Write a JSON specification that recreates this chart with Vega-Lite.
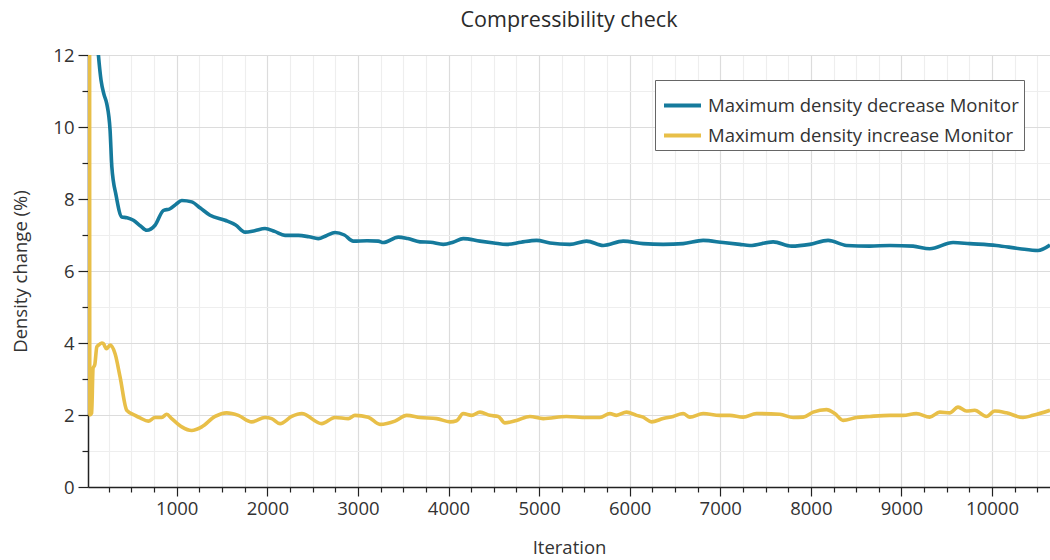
{
  "$schema": "https://vega.github.io/schema/vega-lite/v6.json",
  "width": 962,
  "height": 432,
  "autosize": {"type": "none"},
  "padding": {"top": 55, "left": 88, "right": 0, "bottom": 73},
  "background": "white",
  "title": {"text": "Compressibility check", "font": "Open Sans", "fontSize": 21.5, "fontWeight": "normal", "color": "#2a2a2a", "anchor": "middle", "offset": 15},
  "config": {
    "view": {"stroke": null},
    "axis": {"labelFont": "Open Sans", "titleFont": "Open Sans", "labelColor": "#333", "titleColor": "#333", "titleFontWeight": "normal", "domainColor": "#222", "domainWidth": 1.5, "tickColor": "#222", "tickWidth": 1.2}
  },
  "datasets": {
    "curves": [
      {"it": 30, "v": 22, "series": "Maximum density decrease Monitor"},
      {"it": 100, "v": 13.2, "series": "Maximum density decrease Monitor"},
      {"it": 135, "v": 12.0, "series": "Maximum density decrease Monitor"},
      {"it": 164, "v": 11.3, "series": "Maximum density decrease Monitor"},
      {"it": 197, "v": 10.9, "series": "Maximum density decrease Monitor"},
      {"it": 227, "v": 10.65, "series": "Maximum density decrease Monitor"},
      {"it": 264, "v": 9.9, "series": "Maximum density decrease Monitor"},
      {"it": 283, "v": 8.9, "series": "Maximum density decrease Monitor"},
      {"it": 330, "v": 8.1, "series": "Maximum density decrease Monitor"},
      {"it": 393, "v": 7.5, "series": "Maximum density decrease Monitor"},
      {"it": 450, "v": 7.48, "series": "Maximum density decrease Monitor"},
      {"it": 521, "v": 7.41, "series": "Maximum density decrease Monitor"},
      {"it": 600, "v": 7.25, "series": "Maximum density decrease Monitor"},
      {"it": 669, "v": 7.13, "series": "Maximum density decrease Monitor"},
      {"it": 760, "v": 7.27, "series": "Maximum density decrease Monitor"},
      {"it": 852, "v": 7.68, "series": "Maximum density decrease Monitor"},
      {"it": 926, "v": 7.73, "series": "Maximum density decrease Monitor"},
      {"it": 990, "v": 7.85, "series": "Maximum density decrease Monitor"},
      {"it": 1055, "v": 7.96, "series": "Maximum density decrease Monitor"},
      {"it": 1165, "v": 7.92, "series": "Maximum density decrease Monitor"},
      {"it": 1260, "v": 7.75, "series": "Maximum density decrease Monitor"},
      {"it": 1367, "v": 7.55, "series": "Maximum density decrease Monitor"},
      {"it": 1533, "v": 7.41, "series": "Maximum density decrease Monitor"},
      {"it": 1650, "v": 7.28, "series": "Maximum density decrease Monitor"},
      {"it": 1754, "v": 7.08, "series": "Maximum density decrease Monitor"},
      {"it": 1860, "v": 7.12, "series": "Maximum density decrease Monitor"},
      {"it": 1974, "v": 7.18, "series": "Maximum density decrease Monitor"},
      {"it": 2080, "v": 7.1, "series": "Maximum density decrease Monitor"},
      {"it": 2195, "v": 6.99, "series": "Maximum density decrease Monitor"},
      {"it": 2343, "v": 6.99, "series": "Maximum density decrease Monitor"},
      {"it": 2460, "v": 6.95, "series": "Maximum density decrease Monitor"},
      {"it": 2562, "v": 6.9, "series": "Maximum density decrease Monitor"},
      {"it": 2650, "v": 6.98, "series": "Maximum density decrease Monitor"},
      {"it": 2747, "v": 7.07, "series": "Maximum density decrease Monitor"},
      {"it": 2850, "v": 7.0, "series": "Maximum density decrease Monitor"},
      {"it": 2949, "v": 6.83, "series": "Maximum density decrease Monitor"},
      {"it": 3100, "v": 6.84, "series": "Maximum density decrease Monitor"},
      {"it": 3225, "v": 6.83, "series": "Maximum density decrease Monitor"},
      {"it": 3280, "v": 6.79, "series": "Maximum density decrease Monitor"},
      {"it": 3445, "v": 6.94, "series": "Maximum density decrease Monitor"},
      {"it": 3550, "v": 6.9, "series": "Maximum density decrease Monitor"},
      {"it": 3685, "v": 6.81, "series": "Maximum density decrease Monitor"},
      {"it": 3800, "v": 6.8, "series": "Maximum density decrease Monitor"},
      {"it": 3942, "v": 6.74, "series": "Maximum density decrease Monitor"},
      {"it": 4050, "v": 6.8, "series": "Maximum density decrease Monitor"},
      {"it": 4162, "v": 6.9, "series": "Maximum density decrease Monitor"},
      {"it": 4347, "v": 6.83, "series": "Maximum density decrease Monitor"},
      {"it": 4500, "v": 6.78, "series": "Maximum density decrease Monitor"},
      {"it": 4641, "v": 6.74, "series": "Maximum density decrease Monitor"},
      {"it": 4800, "v": 6.8, "series": "Maximum density decrease Monitor"},
      {"it": 4972, "v": 6.85, "series": "Maximum density decrease Monitor"},
      {"it": 5119, "v": 6.78, "series": "Maximum density decrease Monitor"},
      {"it": 5340, "v": 6.74, "series": "Maximum density decrease Monitor"},
      {"it": 5524, "v": 6.83, "series": "Maximum density decrease Monitor"},
      {"it": 5707, "v": 6.71, "series": "Maximum density decrease Monitor"},
      {"it": 5928, "v": 6.83, "series": "Maximum density decrease Monitor"},
      {"it": 6149, "v": 6.76, "series": "Maximum density decrease Monitor"},
      {"it": 6369, "v": 6.74, "series": "Maximum density decrease Monitor"},
      {"it": 6590, "v": 6.76, "series": "Maximum density decrease Monitor"},
      {"it": 6811, "v": 6.85, "series": "Maximum density decrease Monitor"},
      {"it": 7032, "v": 6.79, "series": "Maximum density decrease Monitor"},
      {"it": 7216, "v": 6.74, "series": "Maximum density decrease Monitor"},
      {"it": 7326, "v": 6.71, "series": "Maximum density decrease Monitor"},
      {"it": 7584, "v": 6.81, "series": "Maximum density decrease Monitor"},
      {"it": 7786, "v": 6.69, "series": "Maximum density decrease Monitor"},
      {"it": 7988, "v": 6.74, "series": "Maximum density decrease Monitor"},
      {"it": 8190, "v": 6.85, "series": "Maximum density decrease Monitor"},
      {"it": 8393, "v": 6.71, "series": "Maximum density decrease Monitor"},
      {"it": 8651, "v": 6.69, "series": "Maximum density decrease Monitor"},
      {"it": 8872, "v": 6.71, "series": "Maximum density decrease Monitor"},
      {"it": 9128, "v": 6.69, "series": "Maximum density decrease Monitor"},
      {"it": 9312, "v": 6.62, "series": "Maximum density decrease Monitor"},
      {"it": 9570, "v": 6.79, "series": "Maximum density decrease Monitor"},
      {"it": 9754, "v": 6.76, "series": "Maximum density decrease Monitor"},
      {"it": 10049, "v": 6.71, "series": "Maximum density decrease Monitor"},
      {"it": 10306, "v": 6.62, "series": "Maximum density decrease Monitor"},
      {"it": 10508, "v": 6.57, "series": "Maximum density decrease Monitor"},
      {"it": 10640, "v": 6.72, "series": "Maximum density decrease Monitor"},
      {"it": 35, "v": 45, "series": "Maximum density increase Monitor"},
      {"it": 40, "v": 2.0, "series": "Maximum density increase Monitor"},
      {"it": 60, "v": 2.05, "series": "Maximum density increase Monitor"},
      {"it": 76, "v": 3.3, "series": "Maximum density increase Monitor"},
      {"it": 95, "v": 3.4, "series": "Maximum density increase Monitor"},
      {"it": 117, "v": 3.89, "series": "Maximum density increase Monitor"},
      {"it": 135, "v": 3.94, "series": "Maximum density increase Monitor"},
      {"it": 172, "v": 4.0, "series": "Maximum density increase Monitor"},
      {"it": 190, "v": 3.98, "series": "Maximum density increase Monitor"},
      {"it": 224, "v": 3.84, "series": "Maximum density increase Monitor"},
      {"it": 264, "v": 3.94, "series": "Maximum density increase Monitor"},
      {"it": 319, "v": 3.7, "series": "Maximum density increase Monitor"},
      {"it": 374, "v": 3.06, "series": "Maximum density increase Monitor"},
      {"it": 448, "v": 2.13, "series": "Maximum density increase Monitor"},
      {"it": 540, "v": 1.99, "series": "Maximum density increase Monitor"},
      {"it": 595, "v": 1.92, "series": "Maximum density increase Monitor"},
      {"it": 686, "v": 1.83, "series": "Maximum density increase Monitor"},
      {"it": 760, "v": 1.93, "series": "Maximum density increase Monitor"},
      {"it": 834, "v": 1.93, "series": "Maximum density increase Monitor"},
      {"it": 889, "v": 2.02, "series": "Maximum density increase Monitor"},
      {"it": 944, "v": 1.9, "series": "Maximum density increase Monitor"},
      {"it": 1055, "v": 1.67, "series": "Maximum density increase Monitor"},
      {"it": 1165, "v": 1.57, "series": "Maximum density increase Monitor"},
      {"it": 1276, "v": 1.67, "series": "Maximum density increase Monitor"},
      {"it": 1423, "v": 1.96, "series": "Maximum density increase Monitor"},
      {"it": 1551, "v": 2.06, "series": "Maximum density increase Monitor"},
      {"it": 1680, "v": 1.99, "series": "Maximum density increase Monitor"},
      {"it": 1827, "v": 1.81, "series": "Maximum density increase Monitor"},
      {"it": 1974, "v": 1.93, "series": "Maximum density increase Monitor"},
      {"it": 2048, "v": 1.9, "series": "Maximum density increase Monitor"},
      {"it": 2140, "v": 1.76, "series": "Maximum density increase Monitor"},
      {"it": 2269, "v": 1.96, "series": "Maximum density increase Monitor"},
      {"it": 2379, "v": 2.04, "series": "Maximum density increase Monitor"},
      {"it": 2600, "v": 1.76, "series": "Maximum density increase Monitor"},
      {"it": 2747, "v": 1.93, "series": "Maximum density increase Monitor"},
      {"it": 2894, "v": 1.9, "series": "Maximum density increase Monitor"},
      {"it": 2967, "v": 1.99, "series": "Maximum density increase Monitor"},
      {"it": 3114, "v": 1.94, "series": "Maximum density increase Monitor"},
      {"it": 3243, "v": 1.74, "series": "Maximum density increase Monitor"},
      {"it": 3409, "v": 1.83, "series": "Maximum density increase Monitor"},
      {"it": 3538, "v": 1.99, "series": "Maximum density increase Monitor"},
      {"it": 3685, "v": 1.93, "series": "Maximum density increase Monitor"},
      {"it": 3869, "v": 1.9, "series": "Maximum density increase Monitor"},
      {"it": 4016, "v": 1.81, "series": "Maximum density increase Monitor"},
      {"it": 4089, "v": 1.84, "series": "Maximum density increase Monitor"},
      {"it": 4162, "v": 2.04, "series": "Maximum density increase Monitor"},
      {"it": 4255, "v": 1.99, "series": "Maximum density increase Monitor"},
      {"it": 4347, "v": 2.08, "series": "Maximum density increase Monitor"},
      {"it": 4457, "v": 1.99, "series": "Maximum density increase Monitor"},
      {"it": 4549, "v": 1.96, "series": "Maximum density increase Monitor"},
      {"it": 4622, "v": 1.78, "series": "Maximum density increase Monitor"},
      {"it": 4751, "v": 1.85, "series": "Maximum density increase Monitor"},
      {"it": 4898, "v": 1.96, "series": "Maximum density increase Monitor"},
      {"it": 5045, "v": 1.9, "series": "Maximum density increase Monitor"},
      {"it": 5303, "v": 1.96, "series": "Maximum density increase Monitor"},
      {"it": 5524, "v": 1.93, "series": "Maximum density increase Monitor"},
      {"it": 5671, "v": 1.93, "series": "Maximum density increase Monitor"},
      {"it": 5781, "v": 2.04, "series": "Maximum density increase Monitor"},
      {"it": 5855, "v": 1.99, "series": "Maximum density increase Monitor"},
      {"it": 5965, "v": 2.08, "series": "Maximum density increase Monitor"},
      {"it": 6076, "v": 1.99, "series": "Maximum density increase Monitor"},
      {"it": 6149, "v": 1.94, "series": "Maximum density increase Monitor"},
      {"it": 6241, "v": 1.81, "series": "Maximum density increase Monitor"},
      {"it": 6369, "v": 1.9, "series": "Maximum density increase Monitor"},
      {"it": 6480, "v": 1.96, "series": "Maximum density increase Monitor"},
      {"it": 6590, "v": 2.04, "series": "Maximum density increase Monitor"},
      {"it": 6664, "v": 1.94, "series": "Maximum density increase Monitor"},
      {"it": 6811, "v": 2.04, "series": "Maximum density increase Monitor"},
      {"it": 6995, "v": 1.99, "series": "Maximum density increase Monitor"},
      {"it": 7105, "v": 1.99, "series": "Maximum density increase Monitor"},
      {"it": 7252, "v": 1.94, "series": "Maximum density increase Monitor"},
      {"it": 7400, "v": 2.04, "series": "Maximum density increase Monitor"},
      {"it": 7657, "v": 2.02, "series": "Maximum density increase Monitor"},
      {"it": 7805, "v": 1.93, "series": "Maximum density increase Monitor"},
      {"it": 7915, "v": 1.94, "series": "Maximum density increase Monitor"},
      {"it": 8025, "v": 2.08, "series": "Maximum density increase Monitor"},
      {"it": 8172, "v": 2.15, "series": "Maximum density increase Monitor"},
      {"it": 8264, "v": 2.04, "series": "Maximum density increase Monitor"},
      {"it": 8356, "v": 1.85, "series": "Maximum density increase Monitor"},
      {"it": 8503, "v": 1.93, "series": "Maximum density increase Monitor"},
      {"it": 8651, "v": 1.96, "series": "Maximum density increase Monitor"},
      {"it": 8872, "v": 1.99, "series": "Maximum density increase Monitor"},
      {"it": 9019, "v": 1.99, "series": "Maximum density increase Monitor"},
      {"it": 9165, "v": 2.04, "series": "Maximum density increase Monitor"},
      {"it": 9312, "v": 1.94, "series": "Maximum density increase Monitor"},
      {"it": 9423, "v": 2.08, "series": "Maximum density increase Monitor"},
      {"it": 9533, "v": 2.06, "series": "Maximum density increase Monitor"},
      {"it": 9625, "v": 2.22, "series": "Maximum density increase Monitor"},
      {"it": 9717, "v": 2.11, "series": "Maximum density increase Monitor"},
      {"it": 9809, "v": 2.13, "series": "Maximum density increase Monitor"},
      {"it": 9938, "v": 1.96, "series": "Maximum density increase Monitor"},
      {"it": 10030, "v": 2.11, "series": "Maximum density increase Monitor"},
      {"it": 10159, "v": 2.06, "series": "Maximum density increase Monitor"},
      {"it": 10342, "v": 1.93, "series": "Maximum density increase Monitor"},
      {"it": 10452, "v": 1.99, "series": "Maximum density increase Monitor"},
      {"it": 10640, "v": 2.13, "series": "Maximum density increase Monitor"}
    ]
  },
  "data": {"name": "curves"},
  "mark": {"type": "line", "strokeWidth": 3.6, "clip": true, "interpolate": "monotone"},
  "encoding": {
    "x": {
      "field": "it", "type": "quantitative", "title": "Iteration",
      "scale": {"domain": [20, 10640], "nice": false, "zero": false},
      "axis": {
        "values": [250,500,750,1000,1250,1500,1750,2000,2250,2500,2750,3000,3250,3500,3750,4000,4250,4500,4750,5000,5250,5500,5750,6000,6250,6500,6750,7000,7250,7500,7750,8000,8250,8500,8750,9000,9250,9500,9750,10000,10250,10500],
        "format": "d",
        "labelExpr": "datum.value % 1000 === 0 ? datum.label : ''",
        "labelOverlap": false,
        "labelFlush": false,
        "labelFontSize": 18.5,
        "labelPadding": 3,
        "titleFontSize": 18.5,
        "titlePadding": 21,
        "grid": true,
        "gridColor": {"condition": {"test": "datum.value % 1000 === 0", "value": "#dcdcdc"}, "value": "#eeeeee"},
        "gridWidth": 1.2,
        "tickSize": {"condition": {"test": "datum.value % 1000 === 0", "value": 9}, "value": 5}
      }
    },
    "y": {
      "field": "v", "type": "quantitative", "title": "Density change (%)",
      "scale": {"domain": [0, 12], "nice": false},
      "axis": {
        "values": [0,0.5,1,1.5,2,2.5,3,3.5,4,4.5,5,5.5,6,6.5,7,7.5,8,8.5,9,9.5,10,10.5,11,11.5,12],
        "format": "d",
        "labelExpr": "datum.value % 2 === 0 ? datum.label : ''",
        "labelOverlap": false,
        "labelFlush": false,
        "labelFontSize": 18.5,
        "labelPadding": 4,
        "titleFontSize": 18.5,
        "titlePadding": 22,
        "grid": true,
        "gridColor": {"condition": {"test": "datum.value % 2 === 0", "value": "#dcdcdc"}, "value": "#eeeeee"},
        "gridWidth": 1.2,
        "tickSize": {"condition": {"test": "datum.value % 2 === 0", "value": 10}, "value": 6}
      }
    },
    "color": {
      "field": "series", "type": "nominal",
      "scale": {"domain": ["Maximum density decrease Monitor", "Maximum density increase Monitor"], "range": ["#157a9c", "#e8bf48"]},
      "legend": {
        "title": null,
        "orient": "none",
        "legendX": 567,
        "legendY": 25,
        "direction": "vertical",
        "fillColor": "white",
        "strokeColor": "#666",
        "padding": 5,
        "symbolOffset": 2,
        "symbolType": "stroke",
        "symbolSize": 1369,
        "symbolStrokeWidth": 4,
        "labelFont": "Open Sans",
        "labelFontSize": 18.5,
        "labelColor": "#333",
        "labelLimit": 0,
        "rowPadding": -6,
        "labelOffset": 5,
        "cornerRadius": 0
      }
    }
  }
}
